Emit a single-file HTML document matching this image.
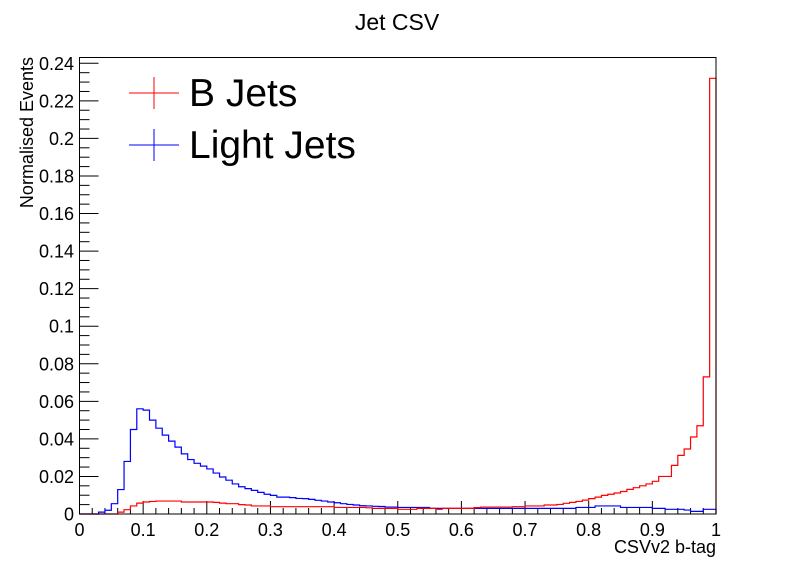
<!DOCTYPE html>
<html><head><meta charset="utf-8"><style>
html,body{margin:0;padding:0;background:#fff;}
svg{display:block;font-family:"Liberation Sans",sans-serif;}
</style></head><body>
<svg id="c" width="796" height="572" xmlns="http://www.w3.org/2000/svg"></svg>
<script>
const bJets = [0,0,0,0,0,0,0.001,0.0023,0.0043,0.0058,
0.0064,0.0067,0.0069,0.0069,0.0069,0.0069,0.0064,0.0064,0.0064,0.0064,
0.0064,0.0062,0.0058,0.0055,0.0055,0.005,0.0048,0.0043,0.0043,0.0043,
0.0039,0.0039,0.0039,0.0039,0.0039,0.0039,0.0039,0.0039,0.0039,0.0039,
0.0035,0.0035,0.0035,0.0035,0.0035,0.0033,0.003,0.003,0.003,0.003,
0.0025,0.0025,0.0025,0.003,0.003,0.003,0.0025,0.003,0.003,0.003,
0.003,0.003,0.0034,0.0037,0.0037,0.0037,0.0037,0.0037,0.0039,0.0039,
0.0043,0.0043,0.0043,0.0048,0.0048,0.0051,0.0057,0.0062,0.0067,0.0074,
0.0082,0.009,0.0099,0.0105,0.0112,0.012,0.0131,0.014,0.015,0.016,
0.0174,0.020,0.020,0.0259,0.0312,0.0346,0.041,0.047,0.073,0.232];
const lightJets = [0,0,0,0.001,0.002,0.0055,0.013,0.028,0.045,0.056,
0.0553,0.050,0.0457,0.042,0.0388,0.0356,0.032,0.029,0.027,0.0255,
0.024,0.0218,0.0197,0.018,0.016,0.0145,0.0135,0.0126,0.0115,0.0105,
0.0099,0.009,0.009,0.0087,0.0083,0.0082,0.0078,0.0073,0.0069,0.0064,
0.006,0.0055,0.0051,0.0048,0.0044,0.0043,0.0041,0.004,0.0037,0.0037,
0.0035,0.0035,0.0035,0.0035,0.0035,0.003,0.003,0.003,0.003,0.003,
0.003,0.003,0.003,0.003,0.003,0.003,0.003,0.003,0.003,0.003,
0.003,0.003,0.003,0.003,0.003,0.003,0.003,0.003,0.0035,0.0035,
0.0035,0.0043,0.0043,0.0043,0.0043,0.0035,0.0035,0.0035,0.0035,0.0035,
0.003,0.003,0.0025,0.0025,0.0025,0.0021,0.0014,0.0014,0.0025,0.0025];
const xTicks = ["0","0.1","0.2","0.3","0.4","0.5","0.6","0.7","0.8","0.9","1"];
const yTicks = ["0","0.02","0.04","0.06","0.08","0.1","0.12","0.14","0.16","0.18","0.2","0.22","0.24"];

const svg=document.getElementById('c');
const NS='http://www.w3.org/2000/svg';
const L=79.5,R=716,T=57.5,B=514;
const X=v=>L+(R-L)*v;
const Y=v=>B-(v/0.24)*(B-63.3);
function mk(tag,attrs,parent){const e=document.createElementNS(NS,tag);for(const k in attrs)e.setAttribute(k,attrs[k]);(parent||svg).appendChild(e);return e;}

const tg=mk('g',{stroke:'#000','stroke-width':1});


for(let i=0;i<=50;i++){const x=X(i/50);const len=(i%5==0)?13:6;mk('line',{x1:x,y1:B,x2:x,y2:B-len},tg);}
for(let i=0;i<=48;i++){const y=Y(i*0.005);const len=(i%4==0)?19:10;mk('line',{x1:L,y1:y,x2:L+len,y2:y},tg);}
xTicks.forEach((t,i)=>{const e=mk('text',{x:X(i/10),y:536,'font-size':18,'text-anchor':'middle'});e.textContent=t;

});
yTicks.forEach((t,i)=>{const e=mk('text',{x:74,y:Y(i*0.02)+6.5,'font-size':18,'text-anchor':'end'});e.textContent=t;

});

function hist(vals,color,name){let d='M'+X(0)+','+B;vals.forEach((v,i)=>{d+=' L'+X(i/100)+','+Y(v)+' L'+X((i+1)/100)+','+Y(v);});d+=' L'+X(1)+','+B;
const p=mk('path',{d:d,fill:'none',stroke:color,'stroke-width':1.2});

}
hist(lightJets,'#0000ff','light-jets-histogram');
hist(bJets,'#ff0000','b-jets-histogram');

const fr=mk('rect',{x:L,y:T,width:R-L,height:B-T,fill:'none',stroke:'#000','stroke-width':1});



const ti=mk('text',{x:397,y:30,'font-size':23,'text-anchor':'middle'});ti.textContent='Jet CSV';


const xt=mk('text',{x:716,y:553,'font-size':18,'text-anchor':'end'});xt.textContent='CSVv2 b-tag';


const yt=mk('text',{x:0,y:0,'font-size':18,'text-anchor':'end',transform:'translate(33,57) rotate(-90)'});yt.textContent='Normalised Events';



[['B Jets','#ff0000',93],['Light Jets','#0000ff',145]].forEach(([lab,c,y])=>{
const g=mk('g',{});


mk('line',{x1:129,y1:y,x2:179,y2:y,stroke:c,'stroke-width':1},g);
mk('line',{x1:154,y1:y-16,x2:154,y2:y+16,stroke:c,'stroke-width':1},g);
const t=mk('text',{x:189,y:y+13,'font-size':39},g);t.textContent=lab;});
</script>
</body></html>
